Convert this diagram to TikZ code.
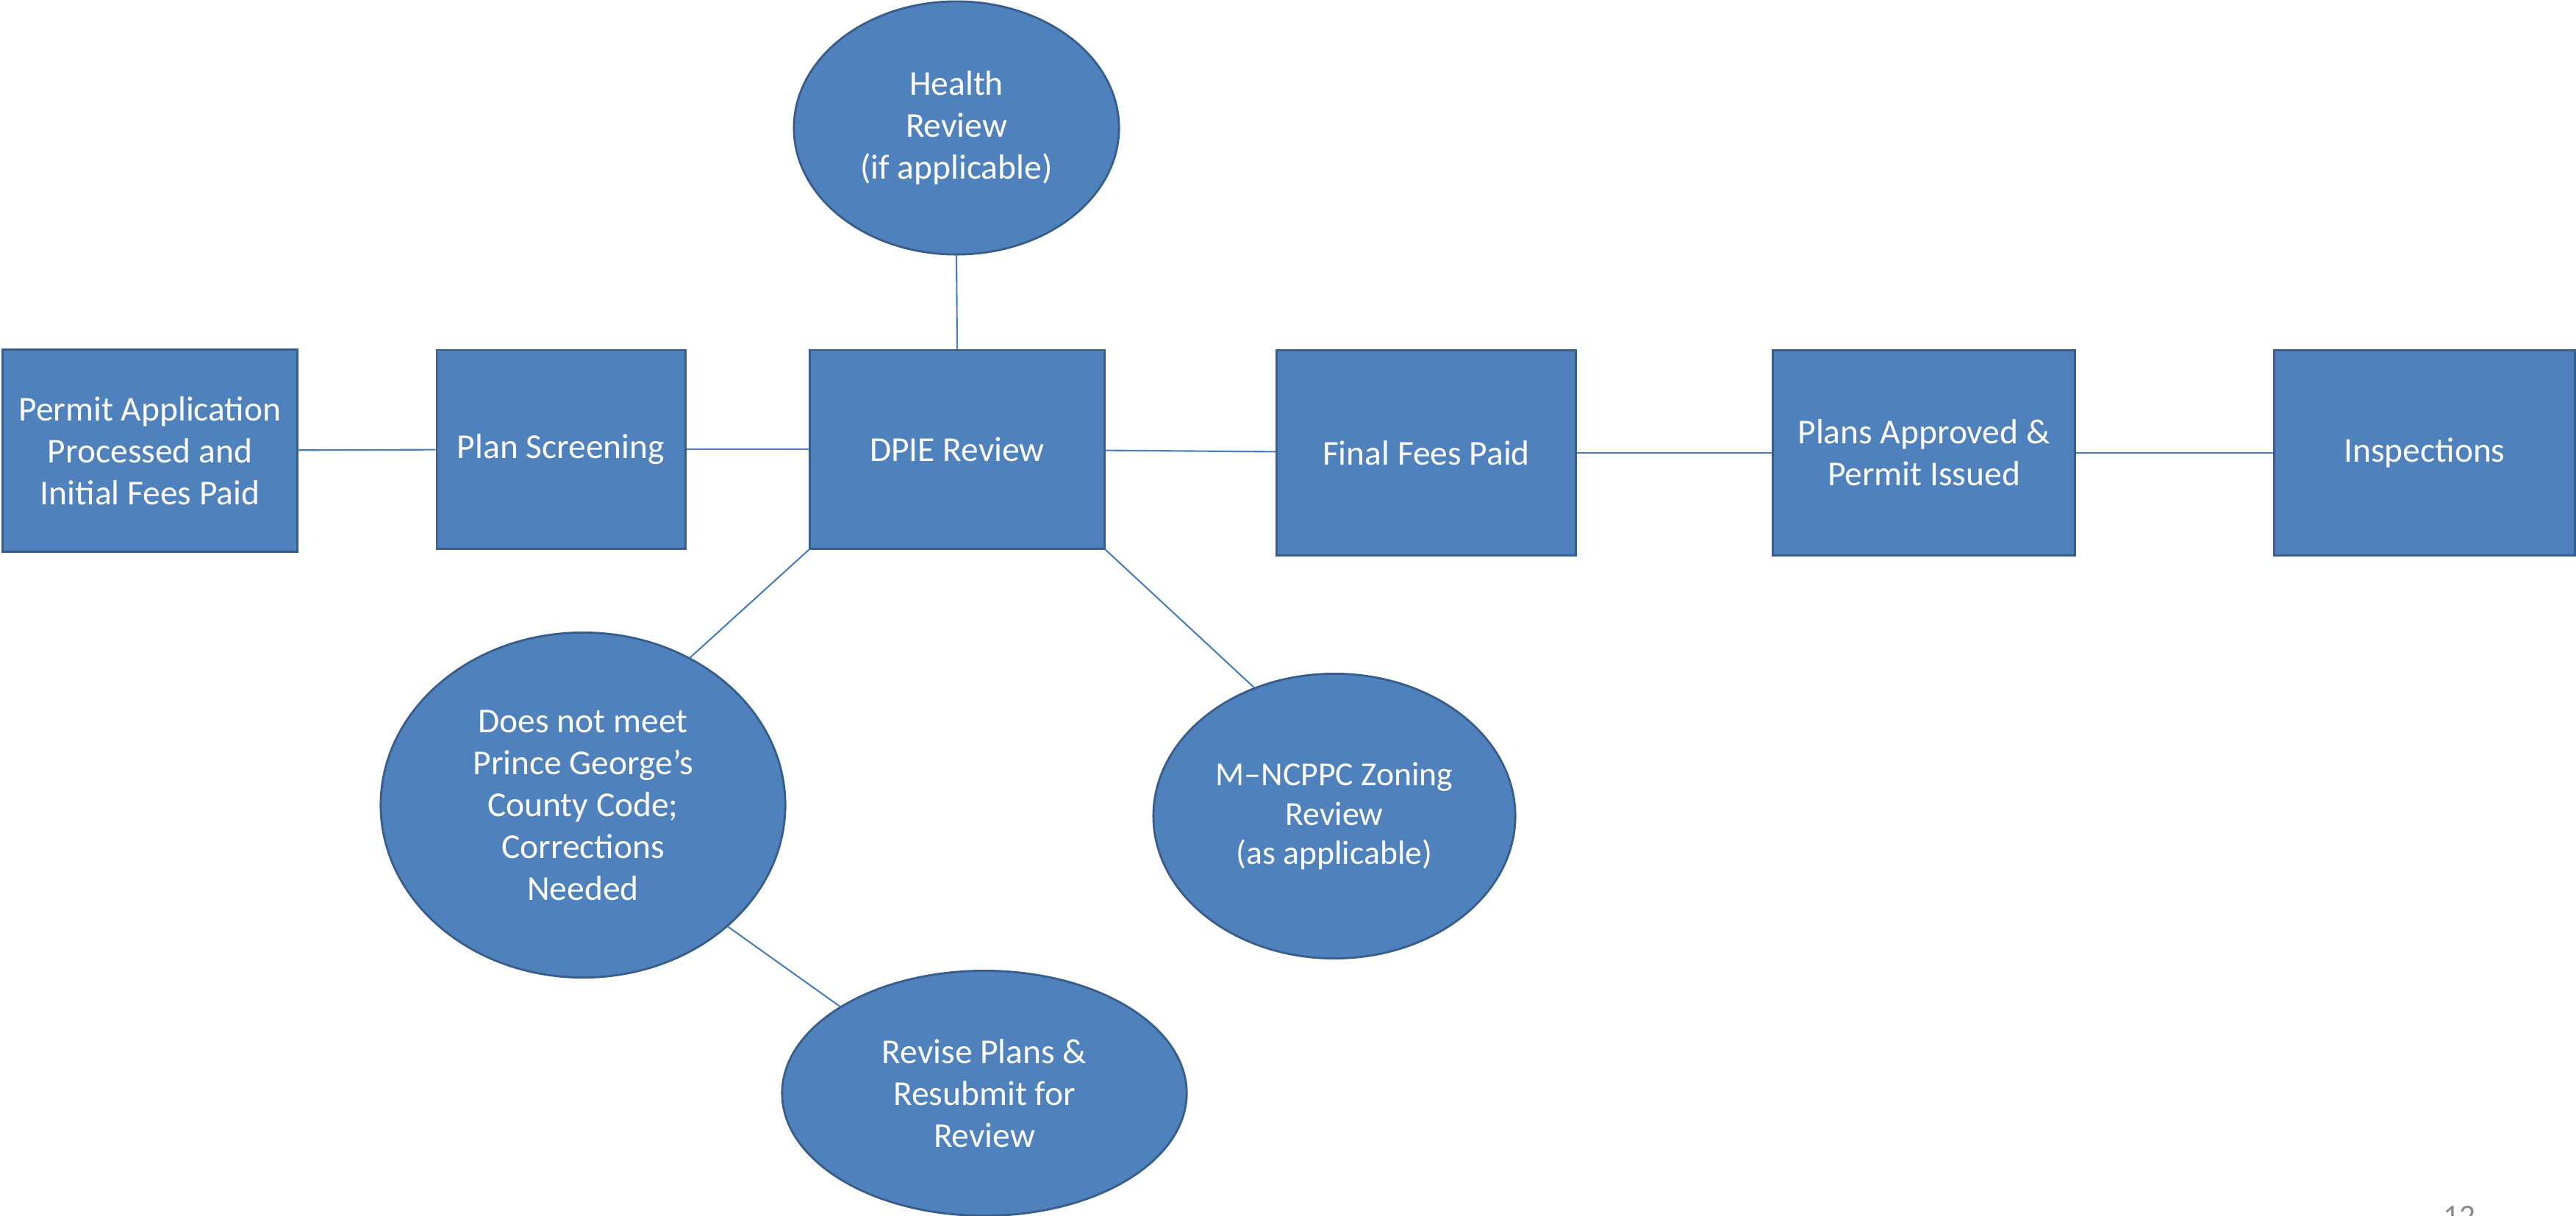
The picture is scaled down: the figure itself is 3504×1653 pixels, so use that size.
\documentclass[tikz,border=0pt]{standalone}
\usepackage{fontspec}
\setmainfont{Carlito}
\usetikzlibrary{shapes.geometric}
\definecolor{boxblue}{HTML}{4F81BD}
\definecolor{edgeblue}{HTML}{385D8A}
\definecolor{lineblue}{HTML}{4A7EBB}
\definecolor{pagegray}{HTML}{8C8C8C}
\begin{document}
\begin{tikzpicture}[x=0.01cm, y=-0.01cm, font=\fontsize{13.5}{16.2}\selectfont]
		\tikzset{stage/.style={rectangle, fill=boxblue, draw=edgeblue, line width=0.8pt, text=white, align=center, inner sep=0pt}}
		\tikzset{bubble/.style={ellipse, fill=boxblue, draw=edgeblue, line width=0.8pt, text=white, align=center, inner sep=0pt}}
		\tikzset{link/.style={draw=lineblue, line width=0.6pt}}
		\useasboundingbox (0,0) rectangle (3504,1653);
		\node [stage, minimum width=4cm, minimum height=2.75cm] (permit) at (204,613) {Permit Application\\Processed and\\Initial Fees Paid};
		\node [stage, minimum width=3.38cm, minimum height=2.7cm] (screen) at (763,611) {Plan Screening};
		\node [stage, minimum width=4cm, minimum height=2.7cm] (dpie) at (1302,611) {DPIE Review};
		\node [stage, minimum width=4.07cm, minimum height=2.79cm] (fees) at (1940,616) {Final Fees Paid};
		\node [stage, minimum width=4.11cm, minimum height=2.79cm] (approve) at (2617,616) {Plans Approved \&\\Permit Issued};
		\node [stage, minimum width=4.09cm, minimum height=2.79cm] (inspect) at (3298,616) {Inspections};
		\node [bubble, minimum width=4.42cm, minimum height=3.44cm] (health) at (1301,174) {Health\\Review\\(if applicable)};
		\node [bubble, minimum width=5.5cm, minimum height=4.69cm] (reject) at (793,1095) {Does not meet\\Prince George’s\\County Code;\\Corrections\\Needed};
		\node [bubble, minimum width=4.92cm, minimum height=3.87cm, font=\fontsize{13}{15.2}\selectfont] (zoning) at (1815,1110) {M–NCPPC Zoning\\Review\\(as applicable)};
		\node [bubble, minimum width=5.5cm, minimum height=3.33cm] (revise) at (1339,1487) {Revise Plans \&\\Resubmit for\\Review};
		\node [text=pagegray, anchor=north, inner sep=0pt, font=\fontsize{12.3}{14}\selectfont] (pagenum) at (3345,1640) {12};
		\draw [link] (permit) -- (screen);
		\draw [link] (screen) -- (dpie);
		\draw [link] (dpie) -- (fees);
		\draw [link] (fees) -- (approve);
		\draw [link] (approve) -- (inspect);
		\draw [link] (health.south) -- (dpie.north);
		\draw [link] (dpie.south west) -- (reject.54);
		\draw [link] (dpie.south east) -- (zoning.122);
		\draw [link] (reject.-40) -- (revise.149);
	\end{tikzpicture}
\end{document}
